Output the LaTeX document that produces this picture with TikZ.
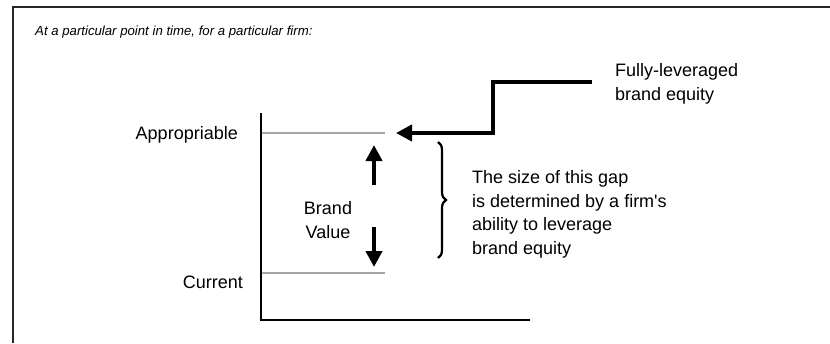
\documentclass[tikz,border=0pt]{standalone}
\usepackage{fontspec}
\setmainfont{Liberation Sans}
\usetikzlibrary{arrows.meta,decorations.pathreplacing}
\begin{document}
\begin{tikzpicture}[x=1pt,y=-1pt,
  lbl/.style={inner sep=0pt,font=\fontsize{18}{23.5}\selectfont},
  framel/.style={line width=1.5pt,black!85},
  axisl/.style={line width=1.8pt,black},
  levelline/.style={line width=2pt,black!35},
  bigarrow/.style={line width=4pt,-{Triangle[length=16pt,width=16pt]}},
  bracel/.style={line width=2.2pt,decorate,decoration={brace,amplitude=8pt}}]
\useasboundingbox (0,0) rectangle (830,343);
% frame
\coordinate (fbl) at (13,343);
\coordinate (ftl) at (13,7);
\coordinate (ftr) at (830,7);
\draw[framel] (fbl) -- (ftl) -- (ftr);
% title
\node[lbl,anchor=base west,font=\fontsize{13.2}{16}\selectfont\itshape] (title) at (35,35) {At a particular point in time, for a particular firm:};
% axes
\coordinate (atop) at (261,113);
\coordinate (aorig) at (261,320);
\coordinate (aright) at (530,320);
\draw[axisl] (atop) -- (aorig) -- (aright);
% level lines
\coordinate (appL) at (262,133);
\coordinate (appR) at (385,133);
\coordinate (curL) at (262,273);
\coordinate (curR) at (385,273);
\draw[levelline] (appL) -- (appR);
\draw[levelline] (curL) -- (curR);
% labels
\node[lbl,anchor=base east] (app) at (238,139) {Appropriable};
\node[lbl,anchor=base east] (cur) at (243,288) {Current};
\node[lbl,anchor=base,align=center] (bv) at (328,238) {Brand\\Value};
% brand value arrows
\coordinate (upS) at (374,185);
\coordinate (upE) at (374,145);
\coordinate (dnS) at (374,227);
\coordinate (dnE) at (374,267);
\draw[bigarrow] (upS) -- (upE);
\draw[bigarrow] (dnS) -- (dnE);
% fully leveraged arrow
\coordinate (flS) at (592,82);
\coordinate (flC1) at (493,82);
\coordinate (flC2) at (493,133);
\coordinate (flE) at (396,133);
\draw[bigarrow] (flS) -- (flC1) -- (flC2) -- (flE);
\node[lbl,anchor=base west,align=left] (fl) at (615,100) {Fully-leveraged\\brand equity};
% brace
\coordinate (brT) at (438,142);
\coordinate (brB) at (438,258);
\draw[bracel] (brT) -- (brB);
\node[lbl,anchor=base west,align=left] (gap) at (472,254) {The size of this gap\\is determined by a firm\textquotesingle s\\ability to leverage\\brand equity};
\end{tikzpicture}
\end{document}
